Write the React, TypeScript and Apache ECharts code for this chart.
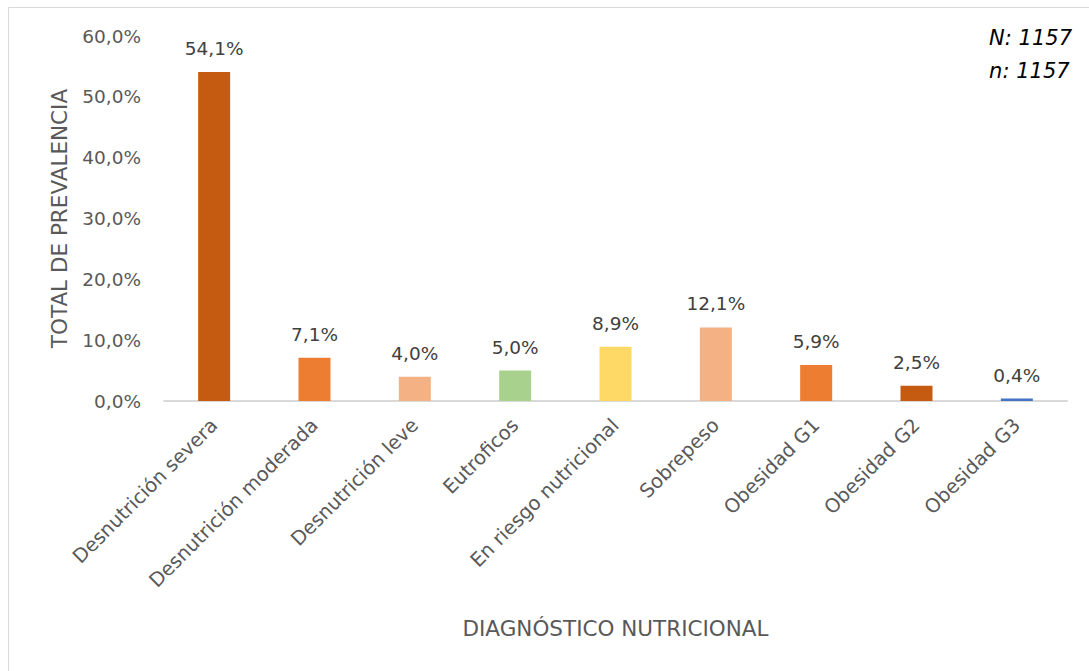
import React, { useEffect, useRef } from "react";
import * as echarts from "echarts";

// Nutritional diagnosis categories and their prevalence (%)
const categories = [
  "Desnutrición severa",
  "Desnutrición moderada",
  "Desnutrición leve",
  "Eutroficos",
  "En riesgo nutricional",
  "Sobrepeso",
  "Obesidad G1",
  "Obesidad G2",
  "Obesidad G3",
];
const prevalence = [54.1, 7.1, 4.0, 5.0, 8.9, 12.1, 5.9, 2.5, 0.4];
const barColors = [
  "#C55A11",
  "#ED7D31",
  "#F4B183",
  "#A9D18E",
  "#FFD966",
  "#F4B183",
  "#ED7D31",
  "#C55A11",
  "#4472C4",
];
const sampleNotes = ["N: 1157", "n: 1157"];

const FONT = "'DejaVu Sans', 'Open Sans', sans-serif";
const pct = (v: number) => v.toFixed(1).replace(".", ",") + "%";

export default function App() {
  const ref = useRef<HTMLDivElement>(null);

  useEffect(() => {
    if (!ref.current) return;
    const chart = echarts.init(ref.current, undefined, { renderer: "svg" });
    chart.setOption({
      animation: false,
      backgroundColor: "#ffffff",
      textStyle: { fontFamily: FONT },
      grid: { left: 164, right: 22, top: 36, bottom: 270 },
      graphic: [
        {
          type: "rect",
          shape: { x: 8.5, y: 7.5, width: 1200, height: 800 },
          style: { fill: "none", stroke: "#d9d9d9", lineWidth: 1 },
          silent: true,
        },
        {
          type: "text",
          right: 17,
          top: 21,
          style: {
            text: sampleNotes.join("\n"),
            font: `italic 21px ${FONT}`,
            fill: "#000000",
            align: "right",
            lineHeight: 33,
          },
        },
      ],
      xAxis: {
        type: "category",
        data: categories,
        name: "DIAGNÓSTICO NUTRICIONAL",
        nameLocation: "middle",
        nameGap: 216,
        nameTextStyle: { color: "#595959", fontSize: 21.5, fontFamily: FONT },
        axisLine: { show: true, lineStyle: { color: "#d9d9d9", width: 2 } },
        axisTick: { show: false },
        axisLabel: {
          rotate: 45,
          interval: 0,
          margin: 21,
          color: "#595959",
          fontSize: 19.5,
          fontFamily: FONT,
        },
      },
      yAxis: {
        type: "value",
        min: 0,
        max: 60,
        interval: 10,
        name: "TOTAL DE PREVALENCIA",
        nameLocation: "middle",
        nameGap: 94,
        nameTextStyle: { color: "#595959", fontSize: 21.5, fontFamily: FONT },
        axisLine: { show: false },
        axisTick: { show: false },
        splitLine: { show: false },
        axisLabel: {
          margin: 23,
          color: "#595959",
          fontSize: 18.5,
          fontFamily: FONT,
          formatter: (v: number) => pct(v),
        },
      },
      series: [
        {
          type: "bar",
          barWidth: 32,
          data: prevalence.map((v, i) => ({
            value: v,
            itemStyle: { color: barColors[i] },
          })),
          label: {
            show: true,
            position: "top",
            distance: 14,
            color: "#404040",
            fontSize: 18.5,
            fontFamily: FONT,
            formatter: (p: any) => pct(p.value),
          },
        },
      ],
    });
    return () => chart.dispose();
  }, []);

  return (
    <div
      ref={ref}
      style={{ position: "fixed", left: 0, top: 0, width: 1089, height: 671 }}
    />
  );
}
